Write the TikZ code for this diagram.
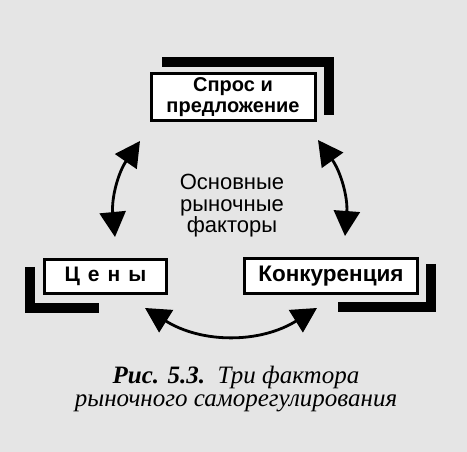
\documentclass[tikz,border=0pt]{standalone}
\usepackage{fontspec}
\setmainfont{Liberation Serif}
\setsansfont{Liberation Sans}
\usetikzlibrary{arrows.meta}
\tikzset{
    factor-box/.style = {draw=black, line width=3pt, fill=white, rectangle, inner sep=3pt, align=center, font=\sffamily\bfseries\fontsize{20}{21}\selectfont},
    core-text/.style = {align=center, font=\sffamily\fontsize{22}{21.5}\selectfont},
    caption-text/.style = {align=center, font=\rmfamily\itshape\fontsize{25}{23}\selectfont},
    shadow-bar/.style = {line width=10pt},
    two-way/.style = {line width=2.8pt, {Triangle[length=25pt,width=26pt]}-{Triangle[length=25pt,width=26pt]}},
}

\begin{document}
\begin{tikzpicture}[x=1pt, y=-1pt]
\fill[black!10] (0,0) rectangle (467,452);
\useasboundingbox (0,0) rectangle (467,452);
\node[factor-box, minimum width=164pt, minimum height=47pt] (demand) at (233,97) {Спрос и\\предложение};
\node[factor-box, minimum width=122pt, minimum height=34pt, font=\sffamily\bfseries\fontsize{21}{21}\selectfont] (prices) at (105.5,276.5) {Ц\hspace{8pt}е\hspace{8pt}н\hspace{8pt}ы};
\node[factor-box, minimum width=173pt, minimum height=35pt, font=\sffamily\bfseries\fontsize{22.5}{21}\selectfont] (rivalry) at (331,276) {Конкуренция};
\node[core-text] (core) at (232,206) {Основные\\рыночные\\факторы};
% shadows
\draw[shadow-bar] ([xshift=12.5pt,yshift=10pt]demand.north west) -| ([xshift=12.5pt,yshift=7pt]demand.south east);
\draw[shadow-bar] ([xshift=-13pt,yshift=-9pt]prices.north west) |- ([xshift=-6.5pt,yshift=-13pt]prices.south);
\draw[shadow-bar] ([xshift=11.5pt,yshift=-7pt]rivalry.north east) |- ([xshift=7pt,yshift=-12.5pt]rivalry.south);
% arrows
\draw[two-way] ([xshift=-9.5pt,yshift=-19pt]demand.south west) to[bend right=20] ([xshift=9.5pt,yshift=21pt]prices.north);
\draw[two-way] ([xshift=1.5pt,yshift=-18pt]demand.south east) to[bend left=20] ([xshift=14pt,yshift=21pt]rivalry.north);
\draw[two-way] ([xshift=-23pt,yshift=-13pt]prices.south east) to[bend right=32] ([xshift=74pt,yshift=-13pt]rivalry.south west);
\node[caption-text] (caption) at (236,389) {\textbf{Рис. 5.3.}\enspace Три фактора\\рыночного саморегулирования};
\end{tikzpicture}
\end{document}
